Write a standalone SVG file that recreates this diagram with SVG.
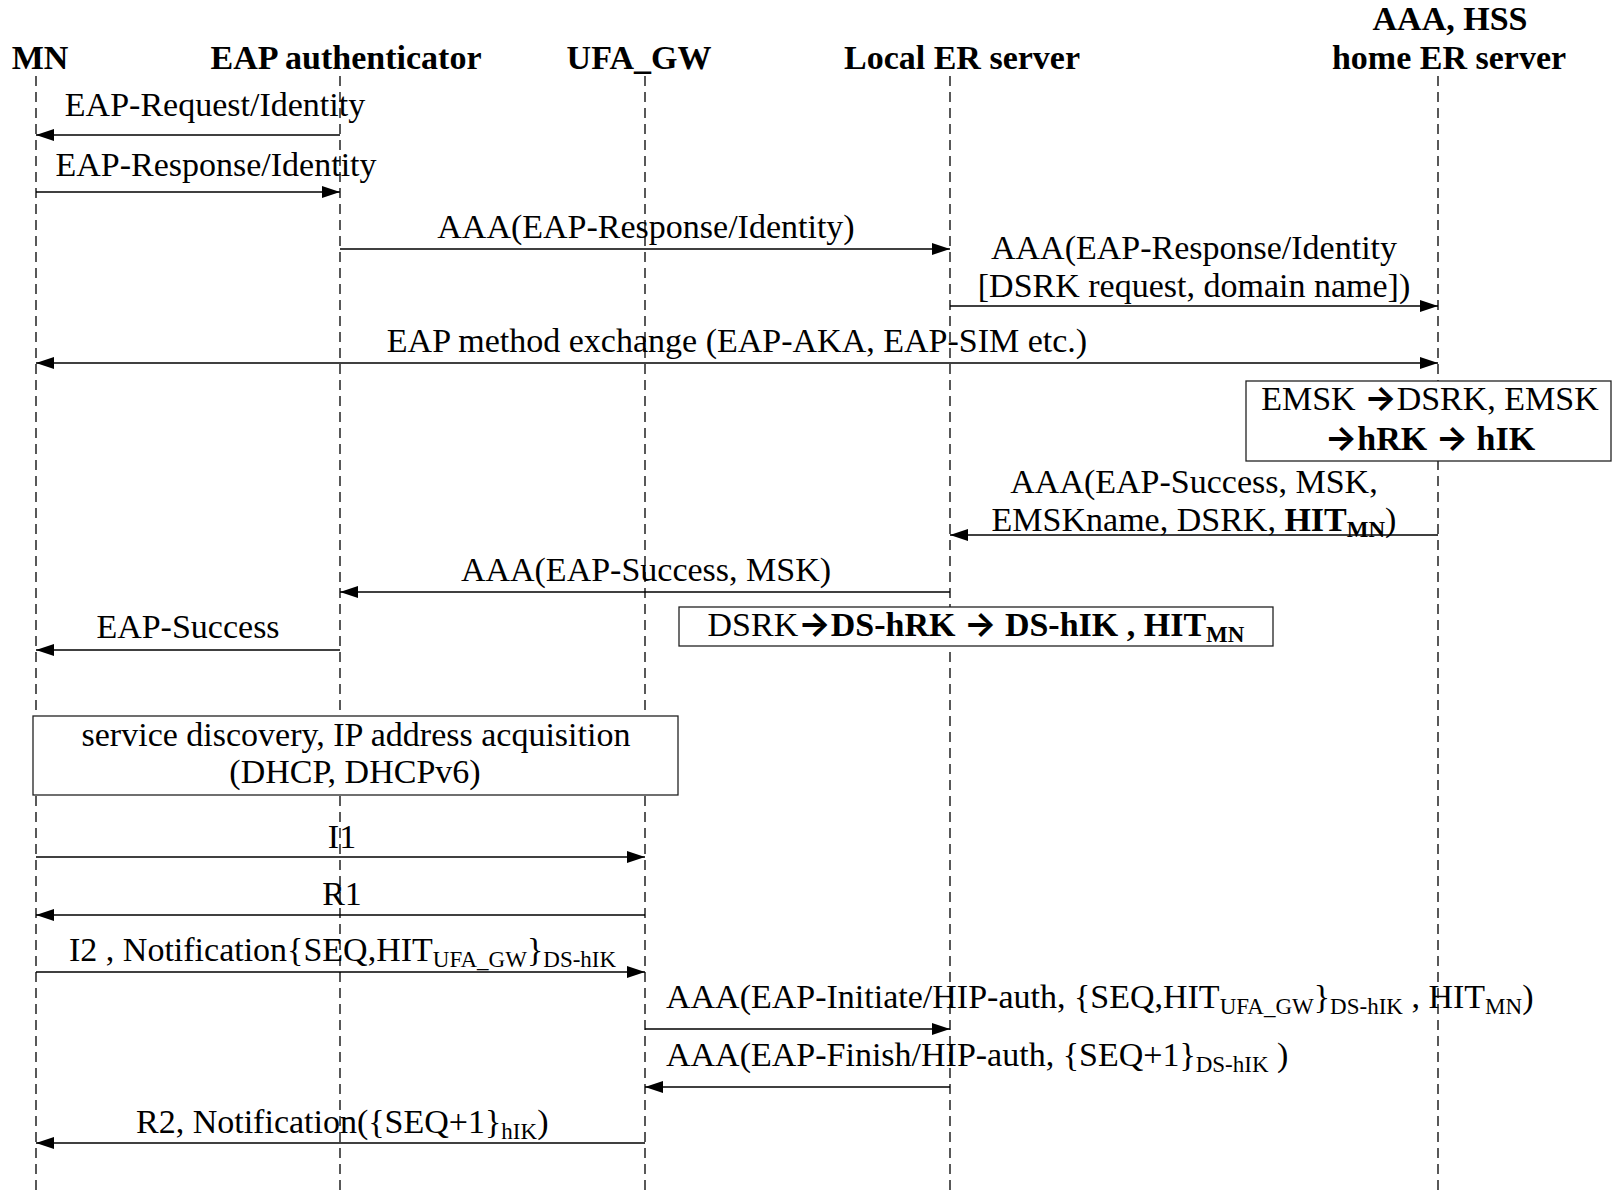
<svg xmlns="http://www.w3.org/2000/svg" width="1612" height="1199" viewBox="0 0 1612 1199">
  <defs>
    <marker id="ah" markerUnits="userSpaceOnUse" markerWidth="18" markerHeight="12" refX="18" refY="6" orient="auto-start-reverse" viewBox="0 0 18 12">
      <path d="M0,0 L18,6 L0,12 z" fill="#000"/>
    </marker>
  </defs>
  <style>
    text { font-family: "Liberation Serif", "Times New Roman", serif; font-size: 34px; fill: #000; }
    .hd { font-weight: bold; text-anchor: middle; }
    .life { stroke: #000; stroke-width: 1.3; stroke-dasharray: 10 6; fill: none; }
    .msg { stroke: #000; stroke-width: 1.6; fill: none; marker-end: url(#ah); }
    .both { marker-start: url(#ah); }
    .note { fill: #fff; stroke: #222; stroke-width: 1.3; }
    .c { text-anchor: middle; }
    .b { font-weight: bold; }
    .s { font-size: 23px; }
    .ar { font-family: Inter, "DejaVu Sans", sans-serif; font-weight: 700; font-size: 34px; }
  </style>

  <rect width="1612" height="1199" fill="#fff"/>

  <!-- participants: header label + dashed lifeline -->
  <g id="node-mn">
    <text class="hd" x="40" y="69">MN</text>
    <line class="life" x1="36" y1="76" x2="36" y2="1196"/>
  </g>
  <g id="node-eap-authenticator">
    <text class="hd" x="346" y="69">EAP authenticator</text>
    <line class="life" x1="340" y1="76" x2="340" y2="1196"/>
  </g>
  <g id="node-ufa-gw">
    <text class="hd" x="639" y="69">UFA_GW</text>
    <line class="life" x1="645" y1="76" x2="645" y2="1196"/>
  </g>
  <g id="node-local-er">
    <text class="hd" x="962" y="69">Local ER server</text>
    <line class="life" x1="950" y1="76" x2="950" y2="1196"/>
  </g>
  <g id="node-home-er">
    <text class="hd" x="1450" y="30">AAA, HSS</text>
    <text class="hd" x="1449" y="69">home ER server</text>
    <line class="life" x1="1438" y1="76" x2="1438" y2="1196"/>
  </g>

  <!-- messages -->
  <g id="connectors">
    <line class="msg" x1="340" y1="135" x2="36" y2="135"/>
    <text class="c" x="215" y="116">EAP-Request/Identity</text>

    <line class="msg" x1="36" y1="192" x2="340" y2="192"/>
    <text class="c" x="216" y="176">EAP-Response/Identity</text>

    <line class="msg" x1="340" y1="249" x2="950" y2="249"/>
    <text class="c" x="646" y="238">AAA(EAP-Response/Identity)</text>

    <line class="msg" x1="950" y1="306" x2="1438" y2="306"/>
    <text class="c" x="1194" y="259">AAA(EAP-Response/Identity</text>
    <text class="c" x="1194" y="297">[DSRK request, domain name])</text>

    <line class="msg both" x1="36" y1="363" x2="1438" y2="363"/>
    <text class="c" x="737" y="352">EAP method exchange (EAP-AKA, EAP-SIM etc.)</text>

    <line class="msg" x1="1438" y1="535" x2="950" y2="535"/>
    <text class="c" x="1194" y="493">AAA(EAP-Success, MSK,</text>
    <text class="c" x="1194" y="531">EMSKname, DSRK, <tspan class="b">HIT</tspan><tspan class="b s" dy="6">MN</tspan><tspan dy="-6">)</tspan></text>

    <line class="msg" x1="950" y1="592" x2="340" y2="592"/>
    <text class="c" x="646" y="581">AAA(EAP-Success, MSK)</text>

    <line class="msg" x1="340" y1="650" x2="36" y2="650"/>
    <text class="c" x="188" y="638">EAP-Success</text>

    <line class="msg" x1="36" y1="857" x2="645" y2="857"/>
    <text class="c" x="342" y="848">I1</text>

    <line class="msg" x1="645" y1="915" x2="36" y2="915"/>
    <text class="c" x="342" y="905">R1</text>

    <line class="msg" x1="36" y1="972" x2="645" y2="972"/>
    <text x="69" y="961">I2 , Notification{SEQ,HIT<tspan class="s" dy="6">UFA_GW</tspan><tspan dy="-6">}</tspan><tspan class="s" dy="6">DS-hIK</tspan></text>

    <line class="msg" x1="645" y1="1029" x2="950" y2="1029"/>
    <text x="666" y="1008">AAA(EAP-Initiate/HIP-auth, {SEQ,HIT<tspan class="s" dy="6">UFA_GW</tspan><tspan dy="-6">}</tspan><tspan class="s" dy="6">DS-hIK</tspan><tspan dy="-6"> , HIT</tspan><tspan class="s" dy="6">MN</tspan><tspan dy="-6">)</tspan></text>

    <line class="msg" x1="950" y1="1087" x2="645" y2="1087"/>
    <text x="666" y="1066">AAA(EAP-Finish/HIP-auth, {SEQ+1}<tspan class="s" dy="6">DS-hIK</tspan><tspan dy="-6"> )</tspan></text>

    <line class="msg" x1="645" y1="1143" x2="36" y2="1143"/>
    <text x="136" y="1133">R2, Notification({SEQ+1}<tspan class="s" dy="6">hIK</tspan><tspan dy="-6">)</tspan></text>
  </g>

  <!-- key derivation at the home ER server -->
  <g id="note-home-keys">
    <rect class="note" x="1246" y="381" width="365" height="80"/>
    <text class="c" x="1430" y="410">EMSK <tspan class="ar">→</tspan>DSRK, EMSK</text>
    <text class="c b" x="1430" y="450"><tspan class="ar">→</tspan>hRK <tspan class="ar">→</tspan> hIK</text>
  </g>

  <!-- key derivation at the local ER server -->
  <g id="note-local-keys">
    <rect class="note" x="679" y="607" width="594" height="39"/>
    <text class="c" x="976" y="636">DSRK<tspan class="ar">→</tspan><tspan class="b">DS-hRK </tspan><tspan class="ar">→</tspan><tspan class="b"> DS-hIK , HIT</tspan><tspan class="b s" dy="6">MN</tspan></text>
  </g>

  <!-- service discovery -->
  <g id="note-discovery">
    <rect class="note" x="33" y="716" width="645" height="79"/>
    <text class="c" x="356" y="746">service discovery, IP address acquisition</text>
    <text class="c" x="355" y="783">(DHCP, DHCPv6)</text>
  </g>
</svg>
